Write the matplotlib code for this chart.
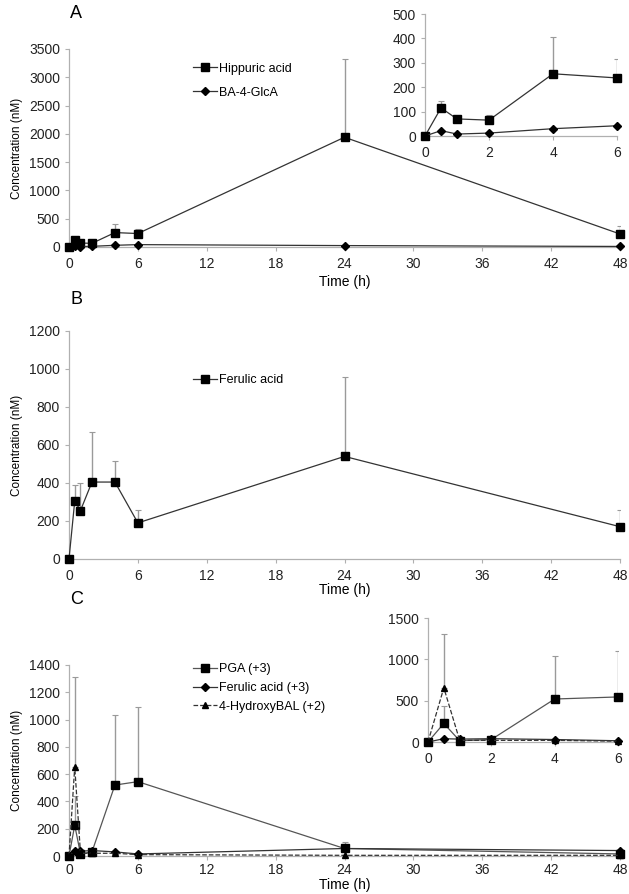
import matplotlib
matplotlib.use("Agg")
import matplotlib.pyplot as plt
import numpy as np

plt.rcParams['font.family'] = ['Liberation Sans', 'DejaVu Sans']

# ---------------- data ----------------
time_h = [0, 0.5, 1, 2, 4, 6, 24, 48]

hippuric = [0, 115, 70, 65, 255, 238, 1940, 230]
hippuric_err = [0, 30, 5, 23, 150, 77, 1380, 140]
ba4glca = [0, 22, 8, 12, 30, 42, 25, 10]
ba4glca_err = [0, 0, 0, 0, 0, 0, 0, 0]

ferulic_b = [0, 305, 255, 405, 405, 190, 540, 170]
ferulic_b_err = [0, 85, 145, 265, 110, 70, 420, 90]

pga = [0, 225, 15, 30, 520, 545, 55, 15]
pga_err = [0, 215, 0, 0, 515, 550, 50, 0]
ferulic_c = [0, 40, 35, 40, 30, 15, 55, 40]
ferulic_c_err = [0, 0, 0, 0, 0, 0, 0, 0]
hydroxybal = [0, 655, 20, 20, 20, 10, 5, 5]
hydroxybal_err = [0, 655, 0, 0, 0, 0, 0, 0]

labels_a = ["Hippuric acid", "BA-4-GlcA"]
labels_b = ["Ferulic acid"]
labels_c = ["PGA (+3)", "Ferulic acid (+3)", "4-HydroxyBAL (+2)"]

main_xticks = [0, 6, 12, 18, 24, 30, 36, 42, 48]
inset_xticks = [0, 2, 4, 6]

# ---------------- figure ----------------
W, H = 629, 894
fig = plt.figure(figsize=(W / 100, H / 100), dpi=100)

def ax_px(left, right, top, bottom):
    return fig.add_axes([left / W, 1 - bottom / H, (right - left) / W, (bottom - top) / H])

SPINE = '#b0b0b0'
LINE = '#333333'
ERR = '#9a9a9a'
TICKFS = 10

def style(ax, fs=TICKFS):
    for s in ['top', 'right']:
        ax.spines[s].set_visible(False)
    for s in ['left', 'bottom']:
        ax.spines[s].set_color(SPINE)
        ax.spines[s].set_linewidth(0.9)
    ax.tick_params(axis='both', colors=SPINE, labelcolor='#222222', labelsize=fs,
                   length=3, width=0.8, direction='out')
    ax.tick_params(axis='x', pad=4)

def series(ax, x, y, err, marker, ms, ls='-', color=LINE, label=None, xmax=None):
    x = np.asarray(x, float); y = np.asarray(y, float); e = np.asarray(err, float)
    if xmax is not None:
        m = x <= xmax
        x, y, e = x[m], y[m], e[m]
    em = e > 0
    if em.any():
        ax.errorbar(x[em], y[em], yerr=[np.zeros(em.sum()), e[em]], fmt='none',
                    ecolor=ERR, elinewidth=1.0, capsize=2, capthick=0.8, zorder=1)
    return ax.plot(x, y, ls=ls, color=color, lw=0.9, marker=marker, ms=ms,
                   mfc='black', mec='black', label=label, zorder=3, clip_on=False)[0]

# ---------------- Panel A ----------------
axA = ax_px(69, 620, 49, 247)
style(axA)
series(axA, time_h, hippuric, hippuric_err, 's', 6, label=labels_a[0])
series(axA, time_h, ba4glca, ba4glca_err, 'D', 4, label=labels_a[1])
axA.set_xlim(0, 48); axA.set_ylim(0, 3500)
axA.set_xticks(main_xticks); axA.set_yticks(np.arange(0, 3501, 500))
axA.set_xlabel("Time (h)", fontsize=10, labelpad=3)
axA.set_ylabel("Concentration (nM)", fontsize=8.5, labelpad=4)
axA.legend(loc='upper left', bbox_to_anchor=(0.225, 0.93), frameon=False, fontsize=9,
           borderpad=0, borderaxespad=0, handlelength=1.9, handletextpad=0.2,
           labelspacing=0.95)
fig.text(70 / W, 1 - 13 / H, "A", fontsize=13, ha='left', va='center')

axAi = ax_px(425, 617, 14, 136)
style(axAi)
series(axAi, time_h, hippuric, hippuric_err, 's', 6, xmax=6)
series(axAi, time_h, ba4glca, ba4glca_err, 'D', 4, xmax=6)
axAi.set_xlim(0, 6); axAi.set_ylim(0, 500)
axAi.set_xticks(inset_xticks); axAi.set_yticks(np.arange(0, 501, 100))
axAi.patch.set_alpha(0)

# ---------------- Panel B ----------------
axB = ax_px(69, 620, 331, 559)
style(axB)
series(axB, time_h, ferulic_b, ferulic_b_err, 's', 6, label=labels_b[0])
axB.set_xlim(0, 48); axB.set_ylim(0, 1200)
axB.set_xticks(main_xticks); axB.set_yticks(np.arange(0, 1201, 200))
axB.set_xlabel("Time (h)", fontsize=10, labelpad=0)
axB.set_ylabel("Concentration (nM)", fontsize=8.5, labelpad=4)
axB.legend(loc='upper left', bbox_to_anchor=(0.225, 0.81), frameon=False, fontsize=9,
           borderpad=0, borderaxespad=0, handlelength=1.9, handletextpad=0.2)
fig.text(70 / W, 1 - 300 / H, "B", fontsize=13, ha='left', va='center')

# ---------------- Panel C ----------------
axC = ax_px(69, 620, 665, 856)
style(axC)
axC.tick_params(axis='x', pad=2)
series(axC, time_h, pga, pga_err, 's', 6, color='#555555', label=labels_c[0])
series(axC, time_h, ferulic_c, ferulic_c_err, 'D', 4, label=labels_c[1])
series(axC, time_h, hydroxybal, hydroxybal_err, '^', 5, ls='--', label=labels_c[2])
axC.set_xlim(0, 48); axC.set_ylim(0, 1400)
axC.set_xticks(main_xticks); axC.set_yticks(np.arange(0, 1401, 200))
axC.set_xlabel("Time (h)", fontsize=10, labelpad=1)
axC.set_ylabel("Concentration (nM)", fontsize=8.5, labelpad=4)
axC.legend(loc='upper left', bbox_to_anchor=(0.225, 1.01), frameon=False, fontsize=9,
           borderpad=0, borderaxespad=0, handlelength=1.9, handletextpad=0.2,
           labelspacing=0.55)
fig.text(70 / W, 1 - 600 / H, "C", fontsize=13, ha='left', va='center')

axCi = ax_px(428, 618, 618, 742)
style(axCi)
series(axCi, time_h, pga, pga_err, 's', 6, color='#555555', xmax=6)
series(axCi, time_h, ferulic_c, ferulic_c_err, 'D', 4, xmax=6)
series(axCi, time_h, hydroxybal, hydroxybal_err, '^', 5, ls='--', xmax=6)
axCi.set_xlim(0, 6); axCi.set_ylim(0, 1500)
axCi.set_xticks(inset_xticks); axCi.set_yticks([0, 500, 1000, 1500])
axCi.patch.set_alpha(0)

fig.savefig("out.png", dpi=100)
